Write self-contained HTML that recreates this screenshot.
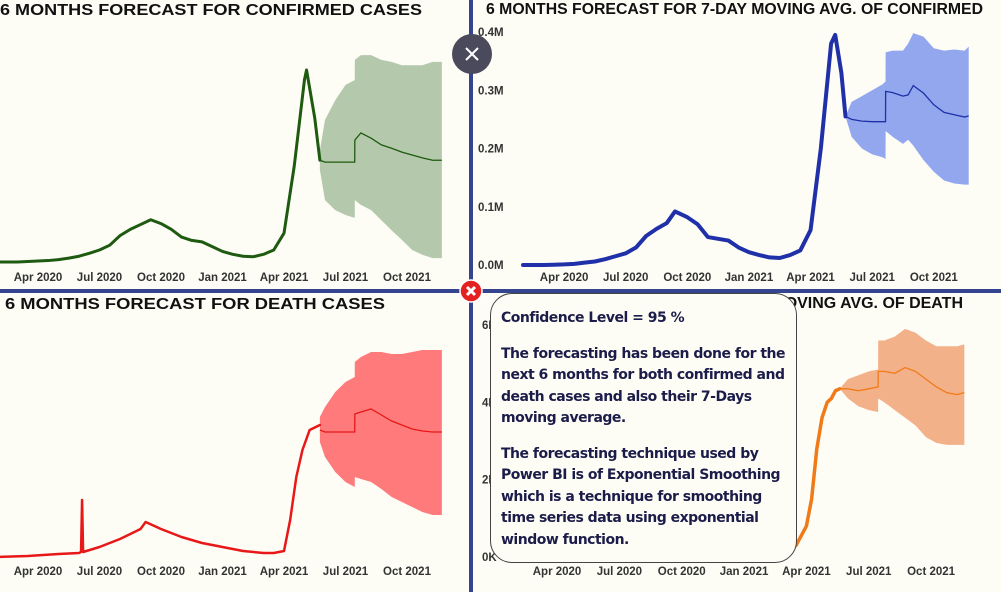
<!DOCTYPE html>
<html><head><meta charset="utf-8"><style>
html,body{margin:0;padding:0;background:#fdfdf6;}
#wrap{position:relative;width:1001px;height:592px;overflow:hidden;font-family:"Liberation Sans",sans-serif;}
svg{position:absolute;left:0;top:0;}
.title{font-weight:bold;font-size:16px;fill:#111;}
.tick{font-size:11.5px;fill:#333;font-weight:bold;}
#tip{position:absolute;left:490px;top:293px;width:307px;height:270px;border:1.5px solid #444;border-radius:22px;background:#fdfdf6;box-sizing:border-box;padding:14px 0 0 10px;color:#1c1c4a;font-weight:bold;font-size:14px;line-height:21.5px;font-family:"DejaVu Sans","Liberation Sans",sans-serif;letter-spacing:-0.5px}
#tip p{margin:0 0 14px 0;}
</style></head><body>
<div id="wrap">
<svg id="svg" width="1001" height="592"></svg>
<div id="tip">
<p>Confidence Level = 95 %</p>
<p>The forecasting has been done for the next 6 months for both confirmed and death cases and also their 7-Days moving average.</p>
<p>The forecasting technique used by Power BI is of Exponential Smoothing which is a technique for smoothing time series data using exponential window function.</p>
</div>
</div>
<script>
// time index = half-months since Feb 1 2020
const tickLabels=["Apr 2020","Jul 2020","Oct 2020","Jan 2021","Apr 2021","Jul 2021","Oct 2021"];
const tickIdx=[4,10,16,22,28,34,40];

// A: daily confirmed (k)
const histIdxA=[0,1,2,3,4,5,6,7,8,9,10,11,12,13,14,15,16,17,18,19,20,21,22,23,24,25,26,27,28,29,30,30.2,31,31.5];
const histA=[0,0,0,1,2,3,5,8,12,18,25,35,55,68,78,88,80,68,52,45,42,32,22,16,12,11,16,25,60,200,380,400,300,212];
const fcIdxA=[31.5,32,33,34,34.9,34.91,35.5,36.5,37.5,38.5,39.5,40.5,41.5,42.5,43.4];
const meanA=[212,208,208,208,208,254,269,258,244,237,229,223,217,212,212];
const upA=[233,296,337,369,379,421,431,431,421,417,410,410,410,417,417];
const loA=[192,129,108,98,92,129,119,108,87,66,46,25,15,8,8];

// B: 7-day avg confirmed (k)
const histIdxB=[0,1,2,3,4,5,6,7,8,9,10,11,12,13,14,14.8,16,17,18,19,20,21,22,23,24,25,26,27,28,29,30,30.4,31,31.4];
const histB=[0,0,0,0.5,1,2,4,6,10,15,20,30,50,62,72,92,82,70,48,45,42,30,22,17,13,12,17,25,60,200,380,395,330,255];
const fcIdxB=[31.4,32,33,34,35,35.3,35.31,36,37,37.5,38,39,40,41,42,43,43.4];
const meanB=[255,250,247,246,246,246,298,296,290,292,308,295,275,262,258,254,256];
const upB=[255,280,290,300,310,315,365,368,368,380,398,392,372,368,370,368,375];
const loB=[255,220,200,190,185,182,230,220,208,215,205,180,160,145,140,138,138];
const yTicksB=[0,100,200,300,400];const yTickLabB=["0.0M","0.1M","0.2M","0.3M","0.4M"];

// C: daily deaths (relative units)
const histIdxC=[0,3,6,8,8.2,8.3,8.4,10,12,14,14.5,16,18,20,22,24,26,27,28,28.6,29.2,29.8,30.5,31.5];
const histC=[0,1,3,4,5,57,5,10,18,28,35,28,20,14,10,6,4,4,6,37,80,107,127,132];
const fcIdxC=[31.5,32,33,34,34.9,34.91,35.5,36.5,37.5,38.5,39.5,40.5,41.5,42.5,43.4];
const meanC=[127,125,125,125,125,143,145,148,142,136,132,128,126,125,125];
const upC=[140,150,165,175,180,195,200,205,205,203,203,205,207,207,207];
const loC=[115,100,85,75,70,80,78,75,68,60,55,50,45,42,42];

// D: 7-day avg deaths (K)
const histIdxD=[0,10,20,24,26,27,28,28.5,29,29.5,30,30.4,30.8,31.2];
const histD=[0,0,0,0,0.1,0.3,0.8,1.5,2.8,3.6,4.0,4.1,4.3,4.35];
const fcIdxD=[31.2,32,33,34,34.9,34.91,35.5,36.5,37.5,38.5,39.5,40.5,41.5,42.5,43.2];
const meanD=[4.35,4.35,4.3,4.35,4.4,4.8,4.8,4.75,4.9,4.8,4.6,4.4,4.25,4.2,4.25];
const upD=[4.35,4.6,4.7,4.8,4.85,5.6,5.6,5.7,5.9,5.8,5.6,5.45,5.45,5.45,5.5];
const loD=[4.35,4.1,3.9,3.8,3.75,4.1,4.0,3.8,3.6,3.4,3.1,2.95,2.9,2.9,2.9];
const yTicksD=[0,2,4,6];const yTickLabD=["0K","2K","4K","6K"];

const NS="http://www.w3.org/2000/svg";const svg=document.getElementById('svg');
function mk(t,a,p){const e=document.createElementNS(NS,t);for(const k in a)e.setAttribute(k,a[k]);(p||svg).appendChild(e);return e;}
function chart(o){
  const g=mk('g',{});
  
  
  const X=i=>o.x0+i*o.xs, Y=v=>o.y0-(v/o.vmax)*(o.y0-o.ytop);
  let d='';o.fi.forEach((i,k)=>{d+=(k?'L':'M')+X(i)+','+Y(o.up[k]);});
  for(let k=o.fi.length-1;k>=0;k--)d+='L'+X(o.fi[k])+','+Y(o.lo[k]);
  const band=mk('path',{d:d+'Z',fill:o.band,stroke:'none'},g);
  
  
  let m='';o.fi.forEach((i,k)=>{m+=(k?'L':'M')+X(i)+','+Y(o.mean[k]);});
  const fl=mk('path',{d:m,fill:'none',stroke:o.line,'stroke-width':1.3},g);
  
  
  let h='';o.hi.forEach((i,k)=>{h+=(k?'L':'M')+X(i)+','+Y(o.hist[k]);});
  const hl=mk('path',{d:h,fill:'none',stroke:o.line,'stroke-width':o.lw,'stroke-linejoin':'round','stroke-linecap':'round'},g);
  
  
  tickIdx.forEach((i,k)=>{const t=mk('text',{x:X(i),y:o.ty,'text-anchor':'middle',class:'tick'},g);t.textContent=tickLabels[k];
    
    });
  if(o.yt)o.yt.forEach((v,k)=>{const t=mk('text',{x:o.yx,y:Y(v)+4,class:'tick'},g);t.textContent=o.ytl[k];
    
    });
  const ti=mk('text',{x:o.tx,y:o.tyy,class:'title',textLength:o.tl,lengthAdjust:'spacingAndGlyphs'},g);ti.textContent=o.title;
  
  
}
chart({name:'confirmed-chart',x0:-3,xs:10.25,y0:262,ytop:70,vmax:400,hi:histIdxA,hist:histA,fi:fcIdxA,mean:meanA,up:upA,lo:loA,line:'#1e5a10',band:'#b4c8ab',lw:3,ty:281,title:'6 MONTHS FORECAST FOR CONFIRMED CASES',tx:0,tyy:15,tl:422});
chart({name:'confirmed-avg-chart',x0:523,xs:10.27,y0:265,ytop:32,vmax:400,hi:histIdxB,hist:histB,fi:fcIdxB,mean:meanB,up:upB,lo:loB,line:'#2030a8',band:'#93a7ef',lw:4,ty:281,yt:yTicksB,ytl:yTickLabB,yx:478,title:'6 MONTHS FORECAST FOR 7-DAY MOVING AVG. OF CONFIRMED',tx:486,tyy:14,tl:497});
chart({name:'death-chart',x0:-3,xs:10.25,y0:557,ytop:357,vmax:200,hi:histIdxC,hist:histC,fi:fcIdxC,mean:meanC,up:upC,lo:loC,line:'#e81818',band:'#ff7a7a',lw:2.5,ty:575,title:'6 MONTHS FORECAST FOR DEATH CASES',tx:5,tyy:309,tl:380});
chart({name:'death-avg-chart',x0:515.5,xs:10.39,y0:557,ytop:325,vmax:6,hi:histIdxD,hist:histD,fi:fcIdxD,mean:meanD,up:upD,lo:loD,line:'#f07a18',band:'#f3b18a',lw:3.5,ty:575,yt:yTicksD,ytl:yTickLabD,yx:482,title:'6 MONTHS FORECAST FOR 7-DAY MOVING AVG. OF DEATH',tx:503,tyy:308,tl:460});
// dividers
const hd=mk('rect',{x:0,y:289,width:1001,height:4,fill:'#34448f'});

const vd=mk('rect',{x:469,y:0,width:4,height:592,fill:'#34448f'});

// close button
const cb=mk('g',{});

mk('circle',{cx:472,cy:54,r:20,fill:'#4b4a5c'},cb);
mk('path',{d:'M466,48L478,60M478,48L466,60',stroke:'#fff','stroke-width':2},cb);
const xb=mk('g',{});

mk('circle',{cx:471,cy:291,r:11,fill:'#e52020',stroke:'#fff','stroke-width':1.5},xb);
mk('path',{d:'M467,287L475,295M475,287L467,295',stroke:'#fff','stroke-width':3},xb);
</script>
</body></html>
